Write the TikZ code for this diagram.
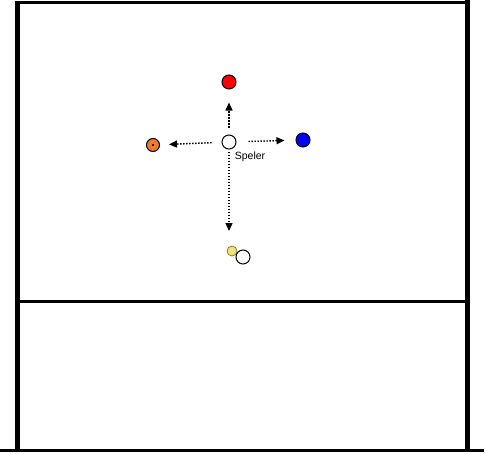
\documentclass[tikz,border=0pt]{standalone}
\usepackage{fontspec}
\setsansfont{Liberation Sans}
\usetikzlibrary{arrows.meta,positioning}
\definecolor{oranjekleur}{HTML}{F07A30}
\definecolor{balgeel}{HTML}{EEE27A}
\definecolor{balrand}{HTML}{8C7C28}

\begin{document}
\begin{tikzpicture}[x=1pt,y=-1pt,
    pion/.style={circle, draw, line width=1pt, minimum size=14pt, inner sep=0pt},
    loop/.style={line width=1.4pt, dash pattern=on 1.4pt off 1.6pt, -{Triangle[length=8pt,width=7pt]}},
    muur/.style={line width=5pt},
    lijn/.style={line width=3pt}]
    \useasboundingbox (0,0) rectangle (486,453);
    % veld
    \draw[lijn] (15,2.5) -- (470,2.5);
    \draw[muur] (17.5,2) -- (17.5,451);
    \draw[muur] (467.5,0) -- (467.5,451);
    \draw[lijn] (17,301.5) -- (467,301.5);
    \draw[lijn] (0,450.5) -- (484,450.5);
    % spelers
    \node[pion, fill=white] (speler) at (229,142) {};
    \node[pion, fill=red] (rood) at (229,82) {};
    \node[pion, fill=blue] (blauw) at (303,140) {};
    \node[pion, fill=oranjekleur, minimum size=13pt] (oranje) at (153,145) {};
    \fill (oranje.center) circle (1.2);
    \node[font=\sffamily\fontsize{10.5}{12}\selectfont, inner sep=0pt] (spelertekst) at (250,157) {Speler};
    % bal
    \node[pion, fill=balgeel, draw=balrand, line width=0.8pt, minimum size=10pt] (bal) at (232,251) {};
    \node[pion, fill=white] (pion) at (243,257) {};
    \coordinate (eindpunt) at (229,231);
    % looplijnen
    \draw[loop, shorten <=7pt, shorten >=13pt] (speler) -- (rood);
    \draw[loop, shorten <=10pt, shorten >=9pt] (speler) -- (oranje);
    \draw[loop, shorten <=12pt, shorten >=11pt] (speler) -- (blauw);
    \draw[loop, shorten <=2pt] (speler) -- (eindpunt);
\end{tikzpicture}
\end{document}
